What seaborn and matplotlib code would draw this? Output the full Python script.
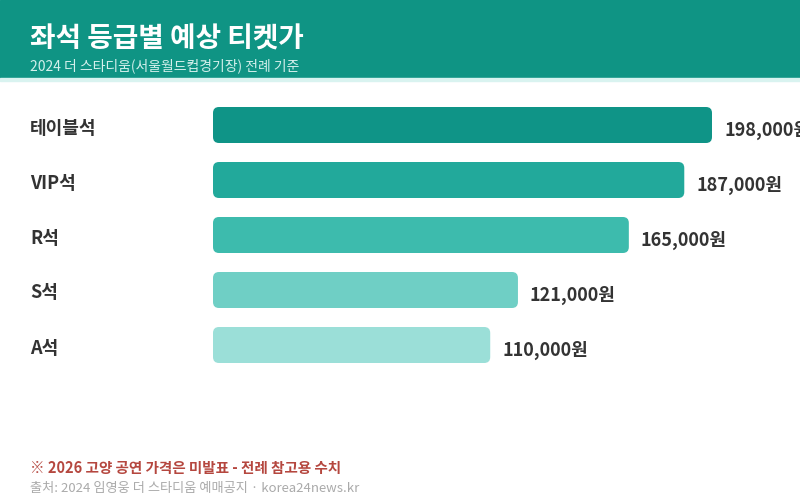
import matplotlib
matplotlib.use("Agg")
import matplotlib.pyplot as plt
from matplotlib.patches import FancyBboxPatch, Rectangle
import pandas as pd
import seaborn as sns

seats = ["테이블석", "VIP석", "R석", "S석", "A석"]
prices = [198000, 187000, 165000, 121000, 110000]
colors = ["#0f9487", "#22a99b", "#3dbbad", "#6fcfc5", "#9bdfd8"]

sns.set_theme(style="white")
plt.rcParams["font.family"] = ["Noto Sans CJK KR", "DejaVu Sans"]

W, H = 800, 498
fig = plt.figure(figsize=(8, 4.98), dpi=100)
fig.patch.set_facecolor("white")

# header band
fig.patches.append(Rectangle((0, 1 - 78 / H), 1, 78 / H, transform=fig.transFigure,
                             color="#0f9484", zorder=0))
fig.patches.append(Rectangle((0, 1 - 81 / H), 1, 3 / H, transform=fig.transFigure,
                             color="#d9f3f0", zorder=0))
fig.text(30 / W, 1 - 40 / H, "좌석 등급별 예상 티켓가", color="white", fontsize=20,
         fontweight="bold", va="center")
fig.text(30 / W, 1 - 66 / H, "2024 더 스타디움(서울월드컵경기장) 전례 기준", color="#d4f0ec",
         fontsize=10, va="center")

# bars axes
left, right = 213, 800
top, bottom = 97.5, 372.5
ax = fig.add_axes([left / W, 1 - bottom / H, (right - left) / W, (bottom - top) / H])
xmax = 198000 * (right - left) / 499
df = pd.DataFrame({"seat": seats, "price": prices})
sns.barplot(data=df, x="price", y="seat", hue="seat", palette=colors, legend=False,
            width=36 / 55, ax=ax, orient="h", saturation=1)
ax.set_xlim(0, xmax)
ax.set_ylim(4.5, -0.5)

xpp = xmax / (right - left)
ypp = 5 / (bottom - top)
for p in list(ax.patches):
    x0, y0, w, h = p.get_x(), p.get_y(), p.get_width(), p.get_height()
    fb = FancyBboxPatch((x0, y0), w, h, boxstyle=f"round,pad=0,rounding_size={6 * xpp}",
                        mutation_aspect=ypp / xpp, facecolor=p.get_facecolor(),
                        edgecolor="none", clip_on=False)
    p.remove()
    ax.add_patch(fb)

for i, v in enumerate(prices):
    ax.text(v + 12 * xpp, i + 0.1, f"{v:,}원", va="center", ha="left", fontsize=13,
            fontweight="bold", color="#333333", clip_on=False)
    fig.text(30 / W, 1 - (125 + 55 * i + 3) / H, seats[i], va="center", ha="left",
             fontsize=13, fontweight="bold", color="#333333")

ax.set_axis_off()

fig.text(30 / W, 1 - 468 / H, "※ 2026 고양 공연 가격은 미발표 - 전례 참고용 수치",
         color="#b5473f", fontsize=10.5, fontweight="bold", va="center")
fig.text(30 / W, 1 - 488 / H, "출처: 2024 임영웅 더 스타디움 예매공지 · korea24news.kr",
         color="#aaaaaa", fontsize=9.5, va="center")

fig.savefig("out.png", dpi=100)
